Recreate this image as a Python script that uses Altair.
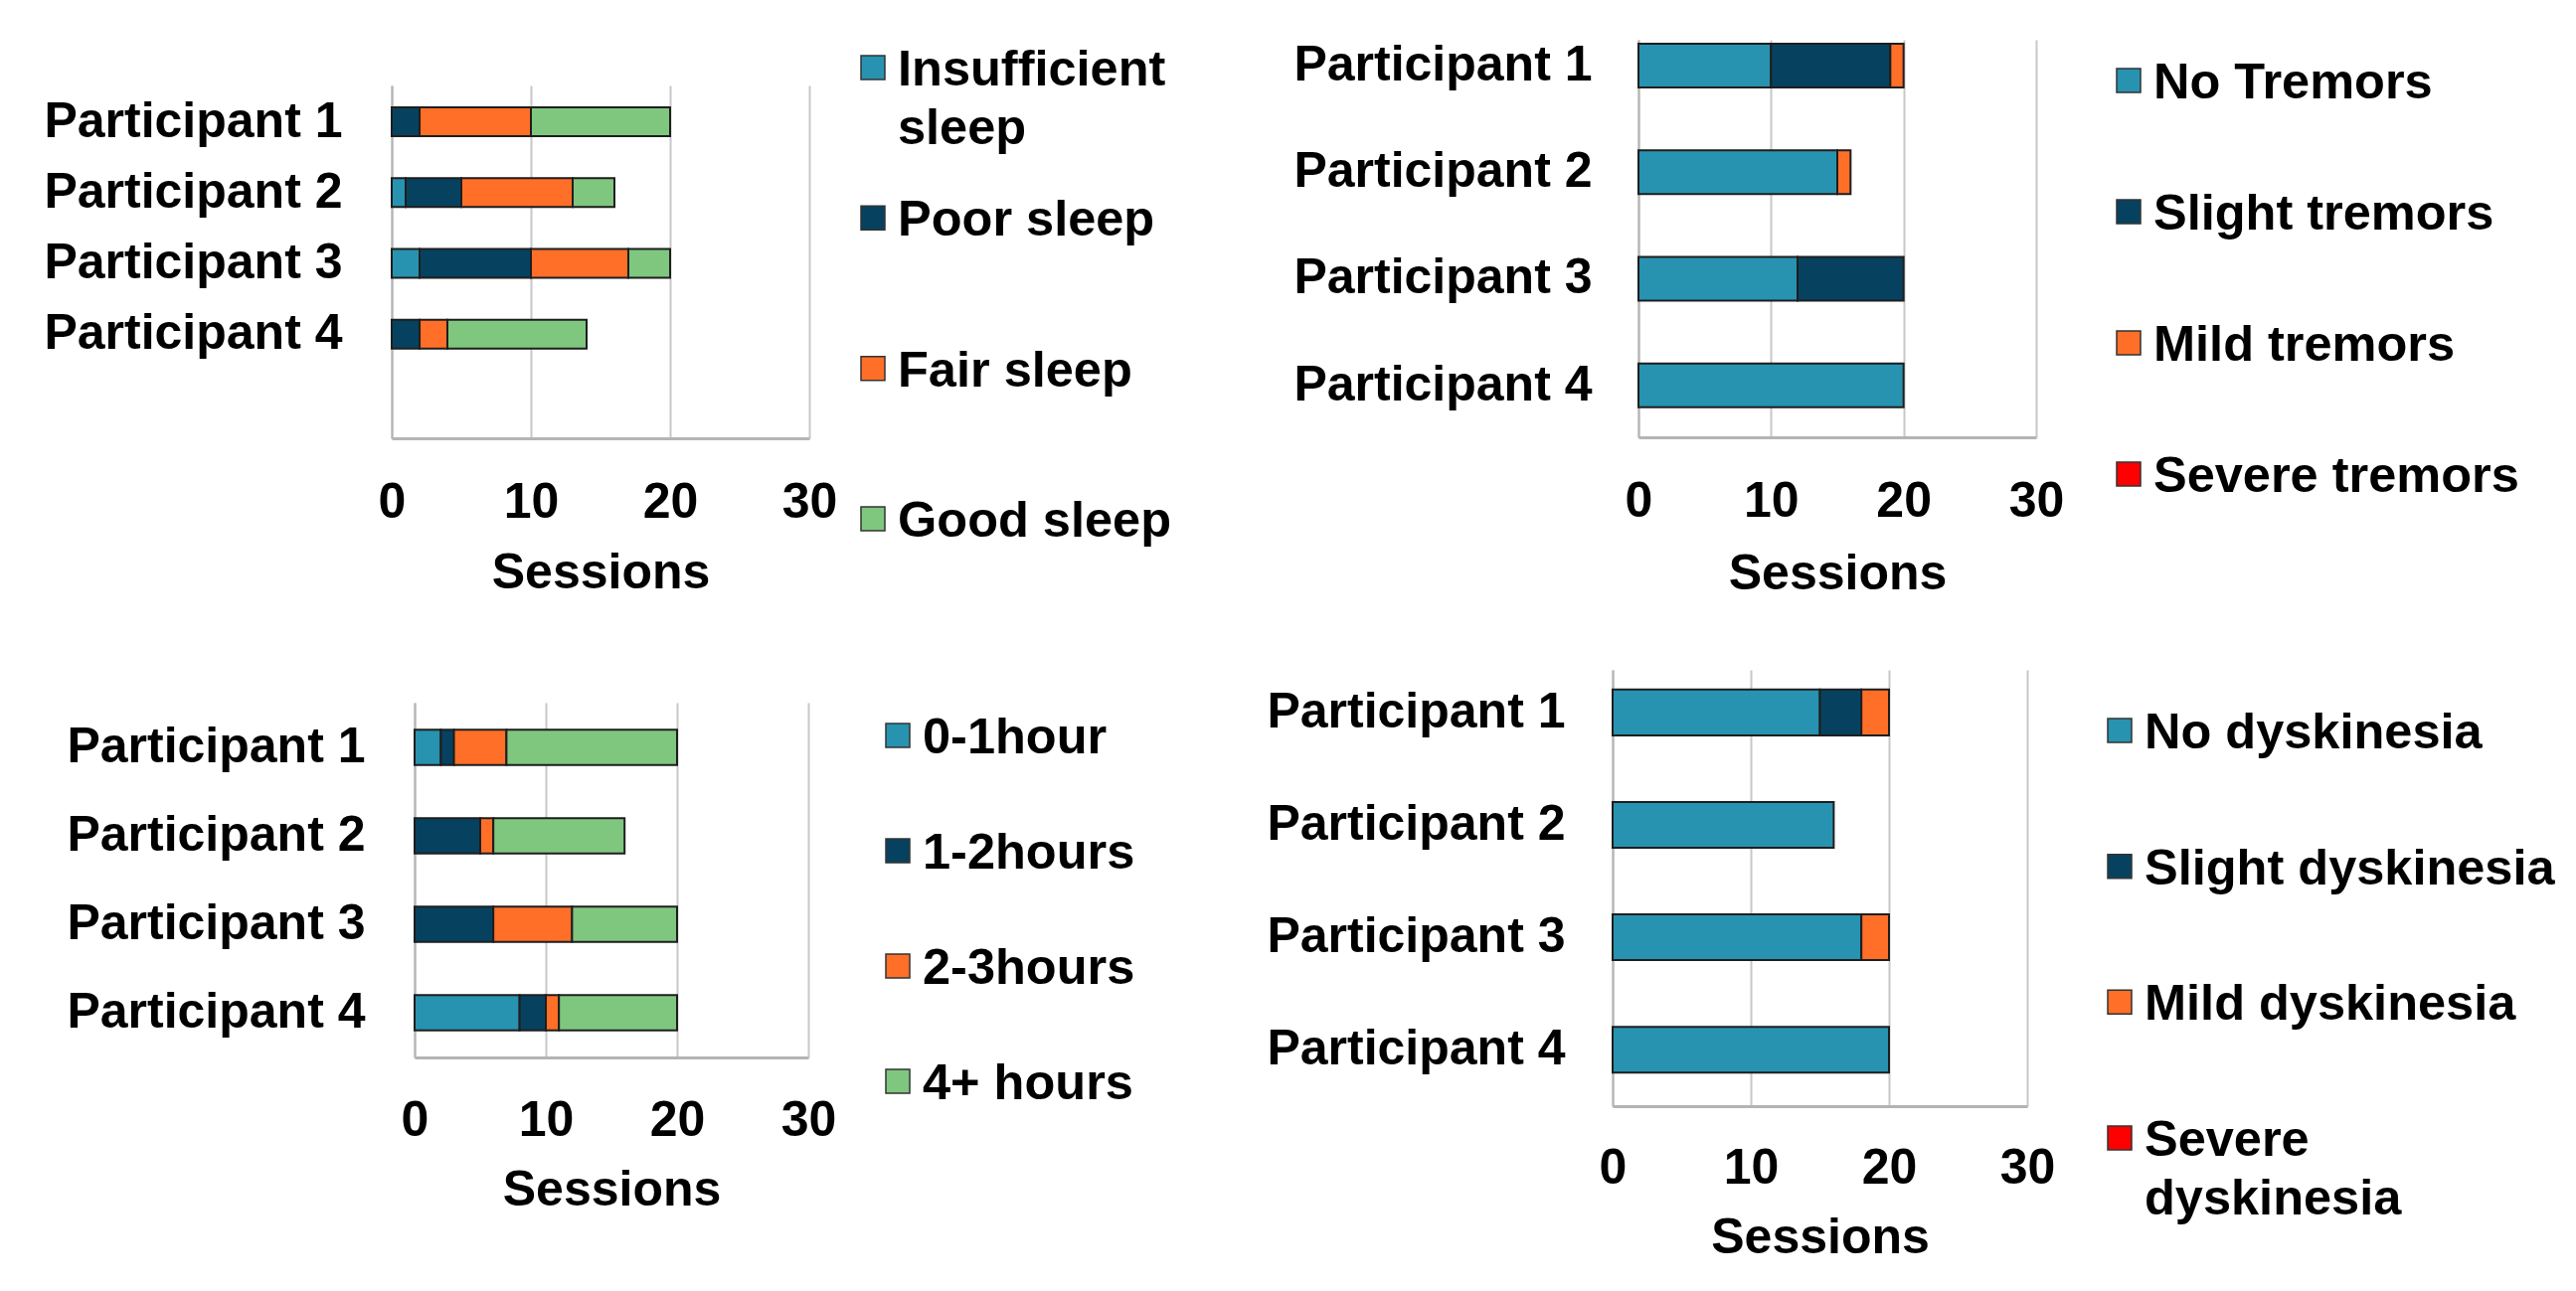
import altair as alt
import pandas as pd

# ---------------- data ----------------
participants = ["Participant 1", "Participant 2", "Participant 3", "Participant 4"]

sleep_cats = ["Insufficient sleep", "Poor sleep", "Fair sleep", "Good sleep"]
sleep_labels = ["Insufficient\nsleep", "Poor sleep", "Fair sleep", "Good sleep"]
sleep_insufficient = [0, 1, 2, 0]
sleep_poor = [2, 4, 8, 2]
sleep_fair = [8, 8, 7, 2]
sleep_good = [10, 3, 3, 10]

tremor_cats = ["No Tremors", "Slight tremors", "Mild tremors", "Severe tremors"]
tremor_labels = ["No Tremors", "Slight tremors", "Mild tremors", "Severe tremors"]
tremor_none = [10, 15, 12, 20]
tremor_slight = [9, 0, 8, 0]
tremor_mild = [1, 1, 0, 0]
tremor_severe = [0, 0, 0, 0]

hours_cats = ["0-1hour", "1-2hours", "2-3hours", "4+ hours"]
hours_labels = ["0-1hour", "1-2hours", "2-3hours", "4+ hours"]
hours_0_1 = [2, 0, 0, 8]
hours_1_2 = [1, 5, 6, 2]
hours_2_3 = [4, 1, 6, 1]
hours_4p = [13, 10, 8, 9]

dysk_cats = ["No dyskinesia", "Slight dyskinesia", "Mild dyskinesia", "Severe dyskinesia"]
dysk_labels = ["No dyskinesia", "Slight dyskinesia", "Mild dyskinesia", "Severe\ndyskinesia"]
dysk_none = [15, 16, 18, 20]
dysk_slight = [3, 0, 0, 0]
dysk_mild = [2, 0, 2, 0]
dysk_severe = [0, 0, 0, 0]

x_ticks = [0, 10, 20, 30]

colors_a = ["#2793B0", "#06425F", "#FF6F28", "#7FC77F"]
colors_b = ["#2793B0", "#06425F", "#FF6F28", "#FF0000"]

# ---------------- style ----------------
FONT = "Liberation Sans"
FS = 50
LFS = 50.5
GRID = "#c8c8c8"
DOMAIN = "#b4b4b4"


def long_df(cats, series):
    rows = []
    for ci, (cat, vals) in enumerate(zip(cats, series)):
        for p, v in zip(participants, vals):
            rows.append({"participant": p, "category": cat, "idx": ci, "value": v})
    return pd.DataFrame(rows)


def spacer(w, h):
    return alt.Chart(pd.DataFrame({"s": [0]})).mark_point(opacity=0, size=1).encode(
        x=alt.value(0), y=alt.value(0)
    ).properties(width=w, height=h)


def bar_panel(cats, series, colors, w, h, pi, po, al, ypad, xpad, title_y):
    df = long_df(cats, series)
    return alt.Chart(df).transform_filter("datum.value > 0").mark_bar(
        stroke="#1e1e1e", strokeWidth=2
    ).encode(
        x=alt.X(
            "value:Q", stack="zero",
            scale=alt.Scale(domain=[0, 30], nice=False),
            axis=alt.Axis(
                values=x_ticks, title="Sessions", grid=True, gridColor=GRID, gridWidth=2,
                domainColor=DOMAIN, domainWidth=3, ticks=False, tickSize=0,
                labelFont=FONT, labelFontSize=FS, labelFontWeight="bold", labelColor="black",
                labelPadding=xpad, labelFlush=False, labelOverlap=False,
                titleFont=FONT, titleFontSize=FS, titleFontWeight="bold", titleColor="black",
                titleY=title_y, titleBaseline="top",
            ),
        ),
        y=alt.Y(
            "participant:N", sort=participants,
            scale=alt.Scale(domain=participants, paddingInner=pi, paddingOuter=po, align=al),
            axis=alt.Axis(
                title=None, ticks=False, tickSize=0, grid=False,
                domainColor=DOMAIN, domainWidth=2,
                labelFont=FONT, labelFontSize=FS, labelFontWeight="bold", labelColor="black",
                labelPadding=ypad, labelLimit=1000,
            ),
        ),
        color=alt.Color("category:N", scale=alt.Scale(domain=cats, range=colors), legend=None),
        order=alt.Order("idx:Q", sort="ascending"),
    ).properties(width=w, height=h)


def legend_panel(cats, labels, colors, h):
    df = pd.DataFrame({"category": cats, "label": labels})
    base = alt.Chart(df).encode(
        y=alt.Y("category:N", sort=cats,
                scale=alt.Scale(type="point", domain=cats, padding=0), axis=None)
    )
    sq = base.mark_square(size=576, opacity=1, stroke="#333333", strokeWidth=1.5).encode(
        x=alt.value(0),
        color=alt.Color("category:N", scale=alt.Scale(domain=cats, range=colors), legend=None),
    )
    tx = base.mark_text(
        align="left", baseline="top", dy=-22, font=FONT, fontSize=LFS, fontWeight="bold",
        color="black", lineBreak="\n", lineHeight=59,
    ).encode(x=alt.value(25), text="label:N")
    return alt.layer(sq, tx).properties(width=1, height=h)


def place(chart, x, y):
    inner = alt.vconcat(spacer(1, y), chart, spacing=0, bounds="flush").resolve_scale(
        x="independent", y="independent", color="independent")
    return alt.hconcat(spacer(x, 1), inner, spacing=0, bounds="flush").resolve_scale(
        x="independent", y="independent", color="independent")


p1 = bar_panel(sleep_cats, [sleep_insufficient, sleep_poor, sleep_fair, sleep_good], colors_a,
               420, 355, 0.593, 0.789, 0.196, 50, 39, 110)
p2 = bar_panel(tremor_cats, [tremor_none, tremor_slight, tremor_mild, tremor_severe], colors_b,
               400, 400, 0.59, 0.16, 0.116, 47, 39, 112)
p3 = bar_panel(hours_cats, [hours_0_1, hours_1_2, hours_2_3, hours_4p], colors_a,
               396, 357, 0.60, 0.305, 0.5, 50, 38, 108)
p4 = bar_panel(dysk_cats, [dysk_none, dysk_slight, dysk_mild, dysk_severe], colors_b,
               417, 439, 0.593, 0.237, 0.37, 48, 37, 107)

l1 = legend_panel(sleep_cats, sleep_labels, colors_a, 454)
l2 = legend_panel(tremor_cats, tremor_labels, colors_b, 396)
l3 = legend_panel(hours_cats, hours_labels, colors_a, 348)
l4 = legend_panel(dysk_cats, dysk_labels, colors_b, 410)

chart = alt.vconcat(
    place(p1, 385, 77),
    place(p2, 1639, 31),
    place(p3, 408, 698),
    place(p4, 1613, 665),
    place(l1, 869, 59),
    place(l2, 2132, 72),
    place(l3, 894, 731),
    place(l4, 2123, 726),
    spacing=0, bounds="flush",
).resolve_scale(
    x="independent", y="independent", color="independent"
).properties(
    padding=0, background="white"
).configure_view(stroke=None)

chart.save("out.html", embed_options={"renderer": "svg", "actions": False})
